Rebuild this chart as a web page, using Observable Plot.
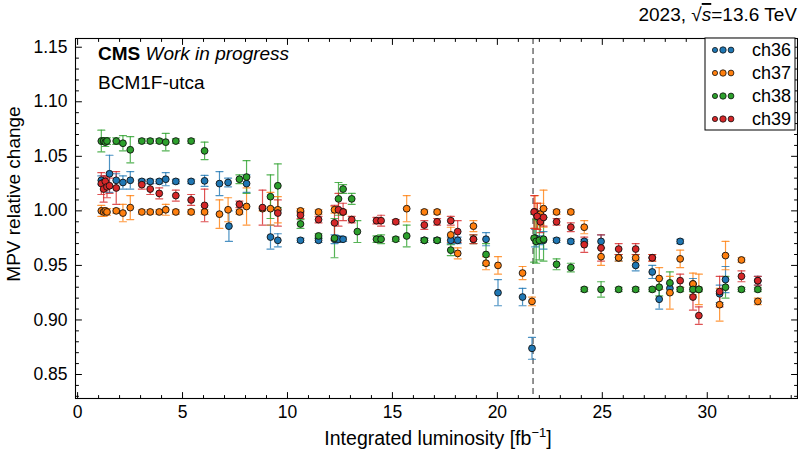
<!DOCTYPE html>
<html><head><meta charset="utf-8">
<script src="https://cdn.jsdelivr.net/npm/d3@7"></script>
<script src="https://cdn.jsdelivr.net/npm/@observablehq/plot@0.6"></script>
<style>
body{margin:0;background:#fff}
svg{font-family:"Liberation Sans","DejaVu Sans",sans-serif}
</style>
</head><body><div id="chart"></div>
<script>
const channels = ["ch36","ch37","ch38","ch39"];
const colors = ["#1f77b4","#ff7f0e","#2ca02c","#d62728"];

const lumi36 = [1.13,1.24,1.32,1.52,1.84,2.16,2.51,3.06,3.46,3.89,4.20,4.68,5.41,6.05,6.76,7.17,7.21,8.05,9.19,9.54,10.62,11.48,12.24,12.43,12.65,16.52,17.13,17.78,18.11,19.46,20.03,21.20,21.65,21.80,22.00,22.20,22.82,23.50,24.14,24.94,25.78,26.59,27.38,27.71,28.22,28.71,29.32,30.59,30.87,32.41];
const mpv36 = [1.028,1.026,1.025,1.034,1.028,1.026,1.028,1.027,1.027,1.027,1.029,1.027,1.027,1.0275,1.025,1.026,0.986,1.025,0.976,0.973,0.973,0.973,0.974,0.974,0.974,0.973,0.973,0.973,0.973,0.974,0.925,0.921,0.874,0.975,0.973,0.973,0.973,0.972,0.972,0.972,0.957,0.950,0.944,0.919,0.929,0.972,0.933,0.924,0.937,0.936];
const err36 = [0.004,0.003,0.003,0.017,0.006,0.006,0.008,0.002,0.002,0.002,0.006,0.002,0.002,0.005,0.011,0.004,0.014,0.008,0.011,0.006,0.002,0.002,0.004,0.003,0.002,0.002,0.002,0.003,0.003,0.006,0.012,0.008,0.010,0.008,0.004,0.008,0.002,0.002,0.002,0.006,0.003,0.005,0.006,0.009,0.004,0.002,0.005,0.008,0.012,0.004];

const lumi37 = [1.13,1.24,1.32,1.40,1.84,2.16,2.51,3.06,3.46,3.89,4.20,4.68,5.41,6.05,6.76,7.17,7.71,8.05,8.81,9.19,9.54,10.62,11.48,12.24,12.65,15.68,16.52,17.13,17.78,18.11,18.86,19.46,20.03,21.20,21.65,21.80,21.90,22.05,22.20,22.82,23.50,24.14,24.94,25.78,26.59,27.38,27.71,28.22,28.71,29.32,29.60,30.59,30.87,31.63,32.41];
const mpv37 = [1.000,0.999,1.000,0.999,1.000,0.998,1.003,0.999,0.999,0.999,1.001,0.999,0.999,0.999,0.997,1.001,0.999,1.004,1.002,1.002,1.001,1.000,0.999,1.001,0.999,1.002,0.999,0.999,0.978,0.961,0.986,0.952,0.950,0.943,0.917,0.999,0.995,0.997,1.002,0.999,0.999,0.985,0.958,0.957,0.957,0.957,0.938,0.925,0.956,0.933,0.928,0.914,0.959,0.955,0.917];
const err37 = [0.005,0.004,0.002,0.003,0.002,0.008,0.011,0.002,0.002,0.002,0.005,0.002,0.002,0.002,0.013,0.011,0.002,0.017,0.002,0.015,0.012,0.002,0.002,0.003,0.002,0.012,0.002,0.002,0.007,0.005,0.005,0.006,0.008,0.006,0.004,0.015,0.012,0.010,0.017,0.002,0.002,0.006,0.008,0.003,0.003,0.003,0.010,0.015,0.008,0.010,0.014,0.015,0.013,0.002,0.003];

const lumi38 = [1.13,1.24,1.32,1.40,1.84,2.16,2.51,3.06,3.46,3.89,4.20,4.68,5.41,6.05,7.71,8.05,9.19,9.54,10.62,11.48,12.24,12.43,12.65,13.06,13.33,14.24,14.46,15.16,15.68,16.52,17.13,17.78,18.86,19.46,21.75,21.85,22.00,22.20,22.82,23.50,24.14,24.94,25.78,26.59,27.38,27.71,28.22,28.71,29.32,29.60,30.87,31.63,32.41];
const mpv38 = [1.064,1.064,1.063,1.064,1.064,1.062,1.056,1.064,1.064,1.064,1.063,1.064,1.064,1.055,1.029,1.031,1.013,1.023,0.988,0.977,0.975,1.011,1.020,1.011,0.981,0.974,0.974,0.974,0.977,0.973,0.973,0.964,0.974,0.960,0.975,0.972,0.973,0.974,0.951,0.948,0.928,0.928,0.928,0.928,0.928,0.930,0.934,0.928,0.928,0.928,0.930,0.928,0.928];
const err38 = [0.010,0.003,0.004,0.003,0.003,0.007,0.012,0.002,0.002,0.002,0.008,0.002,0.002,0.008,0.004,0.015,0.020,0.020,0.004,0.002,0.018,0.015,0.004,0.005,0.010,0.003,0.004,0.002,0.010,0.002,0.002,0.005,0.004,0.010,0.022,0.020,0.018,0.020,0.005,0.004,0.002,0.007,0.002,0.002,0.002,0.008,0.010,0.002,0.002,0.002,0.010,0.002,0.002];

const lumi39 = [1.13,1.24,1.32,1.40,1.52,1.84,3.06,3.46,3.89,4.68,5.41,6.05,7.71,8.81,9.54,10.62,11.48,12.24,12.43,12.65,13.06,14.24,14.46,15.16,16.52,17.13,17.78,18.11,18.86,21.75,21.90,22.05,22.20,22.82,23.50,24.14,24.94,25.78,26.59,27.38,28.71,29.32,29.60,30.59,31.63,32.41];
const mpv39 = [1.025,1.020,1.027,1.022,1.023,1.021,1.024,1.020,1.016,1.014,1.010,1.005,1.006,1.003,0.998,0.996,0.992,0.989,1.001,0.999,0.992,0.991,0.991,0.990,0.987,0.990,0.991,0.981,0.974,0.999,0.995,0.990,0.994,0.990,0.985,0.969,0.966,0.965,0.965,0.957,0.936,0.921,0.904,0.926,0.940,0.936];
const err39 = [0.010,0.012,0.004,0.010,0.007,0.015,0.004,0.005,0.005,0.005,0.005,0.015,0.003,0.016,0.012,0.003,0.003,0.016,0.015,0.008,0.003,0.003,0.005,0.002,0.004,0.003,0.004,0.010,0.004,0.015,0.012,0.010,0.008,0.003,0.004,0.007,0.012,0.005,0.005,0.003,0.006,0.012,0.008,0.014,0.005,0.004];

const xTicks = [0,5,10,15,20,25,30];
const yTicks = [0.85,0.90,0.95,1.00,1.05,1.10,1.15];
const markerLumi = [21.7];
const yearLabel = "2023, ";
const energyLabel = "=13.6 TeV";

const series = [[lumi36,mpv36,err36],[lumi37,mpv37,err37],[lumi38,mpv38,err38],[lumi39,mpv39,err39]];
const rows = [];
series.forEach(([L,M,E],i)=>L.forEach((l,j)=>rows.push({ch:channels[i],lumi:l,mpv:M[j],err:E[j]})));

const xMinor = d3.range(0,35,1).filter(v=>v%5!==0);
const yMinor = d3.range(83,116,1).map(v=>v/100).filter(v=>Math.round(v*100)%5!==0);

const line = {draw(c,l){c.moveTo(0,0);c.lineTo(0,-l);}};
const tickV = (data, anchor, rot, len) => Plot.vector(data,{
  [anchor==="bottom"||anchor==="top"?"x":"y"]: d=>d,
  frameAnchor: anchor, rotate: rot, length: len, anchor:"start", shape: line, stroke:"black", strokeWidth:1
});

const chart = Plot.plot({
  width:798, height:452,
  marginLeft:75, marginRight:1, marginTop:38, marginBottom:54,
  style:{fontFamily:"Liberation Sans, DejaVu Sans, sans-serif", fontSize:"17px", color:"black", background:"white"},
  x:{domain:[-0.1,34.3]},
  y:{domain:[0.828,1.158]},
  color:{domain:channels, range:colors},
  marks:[
    Plot.ruleX(markerLumi,{x:d=>d, stroke:"#777", strokeWidth:1.6, strokeDasharray:"6,4"}),
    Plot.ruleX(rows,{x:"lumi", y1:d=>d.mpv-d.err, y2:d=>d.mpv+d.err, stroke:"ch", strokeWidth:1.2, strokeOpacity:0.8}),
    Plot.vector(rows,{x:"lumi", y:d=>d.mpv+d.err, length:7, rotate:90, anchor:"middle", shape:line, stroke:"ch", strokeWidth:1.2, strokeOpacity:0.8}),
    Plot.vector(rows,{x:"lumi", y:d=>d.mpv-d.err, length:7, rotate:90, anchor:"middle", shape:line, stroke:"ch", strokeWidth:1.2, strokeOpacity:0.8}),
    Plot.dot(rows,{x:"lumi", y:"mpv", r:3.4, fill:"ch", stroke:"#111", strokeWidth:0.9}),
    tickV(xTicks,"bottom",0,6), tickV(xMinor,"bottom",0,3),
    tickV(xTicks,"top",180,6), tickV(xMinor,"top",180,3),
    tickV(yTicks,"left",90,6), tickV(yMinor,"left",90,3),
    tickV(yTicks,"right",-90,6), tickV(yMinor,"right",-90,3),
    Plot.axisX(xTicks,{tickSize:0, tickPadding:7, label:null, fontSize:17.5}),
    Plot.axisY(yTicks,{tickSize:0, tickPadding:8, label:null, fontSize:17.5, tickFormat:d3.format(".2f")}),
    Plot.frame({stroke:"black", strokeWidth:1.1})
  ]
});

const svg = d3.select(chart);
svg.append("text").attr("x",438).attr("y",445).attr("text-anchor","middle").attr("font-size",19.5)
  .call(t=>{t.append("tspan").text("Integrated luminosity [fb");t.append("tspan").attr("font-size",13).attr("dy",-8).text("−1");t.append("tspan").attr("dy",8).text("]");});
svg.append("text").attr("transform","translate(20,194) rotate(-90)").attr("text-anchor","middle").attr("font-size",19).text("MPV relative change");
svg.append("text").attr("x",797).attr("y",21).attr("text-anchor","end").attr("font-size",19)
  .call(t=>{t.append("tspan").text(yearLabel+"√");t.append("tspan").attr("font-style","italic").style("text-decoration","overline").text("s");t.append("tspan").text(energyLabel);});
svg.append("text").attr("x",98).attr("y",60).attr("text-anchor","start").attr("font-size",19)
  .call(t=>{t.append("tspan").attr("font-weight","bold").text("CMS");t.append("tspan").attr("font-style","italic").text(" Work in progress");});
svg.append("text").attr("x",98).attr("y",89).attr("text-anchor","start").attr("font-size",19).text("BCM1F-utca");

const lg = svg.append("g");
lg.append("rect").attr("x",705).attr("y",38).attr("width",90).attr("height",92).attr("fill","white").attr("stroke","black").attr("stroke-width",1);
channels.forEach((c,i)=>{
  const y = 50 + i*23;
  [[715,2.6],[723,3.2],[731,2.9]].forEach(([x,r])=>lg.append("circle").attr("cx",x).attr("cy",y).attr("r",r).attr("fill",colors[i]).attr("stroke","#111").attr("stroke-width",0.8));
  lg.append("text").attr("x",752).attr("y",y+6).attr("text-anchor","start").attr("font-size",18).text(c);
});

document.getElementById("chart").appendChild(chart);
</script>
</body></html>
